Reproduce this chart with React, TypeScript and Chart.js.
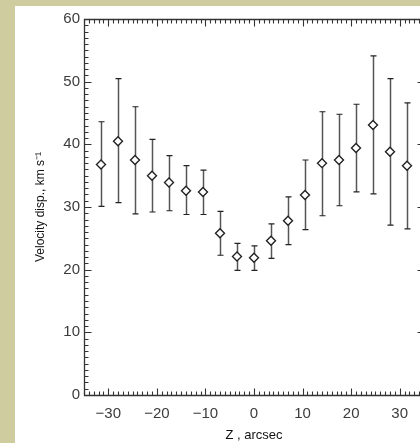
import React, { useEffect, useRef } from "react";
import { Chart, registerables } from "chart.js";

Chart.register(...registerables);

// Data
const zArcsec = [-31.5, -28, -24.5, -21, -17.5, -14, -10.5, -7, -3.5, 0, 3.5, 7, 10.5, 14, 17.5, 21, 24.5, 28, 31.5];
const sigma = [36.8, 40.5, 37.5, 35.0, 33.9, 32.6, 32.4, 25.8, 22.1, 21.9, 24.6, 27.8, 31.9, 37.0, 37.5, 39.4, 43.1, 38.8, 36.6];
const sigmaHigh = [43.6, 50.5, 46.0, 40.8, 38.2, 36.6, 35.9, 29.3, 24.2, 23.8, 27.3, 31.6, 37.5, 45.2, 44.8, 46.4, 54.1, 50.5, 46.6];
const sigmaLow = [30.1, 30.7, 28.9, 29.2, 29.4, 28.8, 28.8, 22.3, 19.9, 19.9, 21.8, 24.0, 26.4, 28.6, 30.2, 32.4, 32.1, 27.1, 26.5];

const xTicks = [-30, -20, -10, 0, 10, 20, 30];
const yTicks = [0, 10, 20, 30, 40, 50, 60];
const X_MIN = -35;
const X_MAX = 35;
const Y_MIN = 0;
const Y_MAX = 60;
const MINOR_STEP = 1;

const FONT = "'Liberation Sans', Arial, Helvetica, sans-serif";

const framePlugin = {
  id: "frameAndErrors",
  beforeDatasetsDraw(chart: any) {
    const { ctx } = chart;
    const xs = chart.scales.x;
    const ys = chart.scales.y;
    ctx.save();
    for (let i = 0; i < zArcsec.length; i++) {
      const px = Math.round(xs.getPixelForValue(zArcsec[i])) + 0.5;
      const top = ys.getPixelForValue(sigmaHigh[i]);
      const bot = ys.getPixelForValue(sigmaLow[i]);
      ctx.strokeStyle = "#555";
      ctx.lineWidth = 1.5;
      ctx.beginPath();
      ctx.moveTo(px, top);
      ctx.lineTo(px, bot);
      ctx.stroke();
      ctx.strokeStyle = "#222";
      ctx.lineWidth = 1.2;
      ctx.beginPath();
      ctx.moveTo(px - 3, top);
      ctx.lineTo(px + 3, top);
      ctx.moveTo(px - 3, bot);
      ctx.lineTo(px + 3, bot);
      ctx.stroke();
    }
    ctx.restore();
  },
  afterDraw(chart: any) {
    const { ctx, chartArea } = chart;
    const xs = chart.scales.x;
    const ys = chart.scales.y;
    const l = Math.round(chartArea.left) + 0.5;
    const r = Math.round(chartArea.right) + 0.5;
    const t = Math.round(chartArea.top) + 0.5;
    const b = Math.round(chartArea.bottom) + 0.5;
    ctx.save();
    ctx.strokeStyle = "#333";
    ctx.lineWidth = 1.3;
    ctx.beginPath();
    ctx.rect(l, t, r - l, b - t);
    ctx.stroke();
    ctx.lineWidth = 1.1;
    ctx.beginPath();
    for (let v = X_MIN; v <= X_MAX; v += MINOR_STEP) {
      const len = v % 10 === 0 ? 7 : 4;
      const px = Math.round(xs.getPixelForValue(v)) + 0.5;
      ctx.moveTo(px, b);
      ctx.lineTo(px, b - len);
      ctx.moveTo(px, t);
      ctx.lineTo(px, t + len);
    }
    for (let v = Y_MIN; v <= Y_MAX; v += MINOR_STEP) {
      const len = v % 10 === 0 ? 7 : 4;
      const py = Math.round(ys.getPixelForValue(v)) + 0.5;
      ctx.moveTo(l, py);
      ctx.lineTo(l + len, py);
      ctx.moveTo(r, py);
      ctx.lineTo(r - len, py);
    }
    ctx.stroke();
    ctx.restore();
  },
};

export default function App() {
  const canvasRef = useRef<HTMLCanvasElement | null>(null);

  useEffect(() => {
    const canvas = canvasRef.current;
    if (!canvas) return;
    const chart = new Chart(canvas, {
      type: "scatter",
      data: {
        datasets: [
          {
            data: zArcsec.map((z, i) => ({ x: z, y: sigma[i] })),
            pointStyle: "rectRot",
            pointRadius: 4.5,
            pointBackgroundColor: "#ffffff",
            pointBorderColor: "#222",
            pointBorderWidth: 1.4,
            showLine: false,
          },
        ],
      },
      options: {
        responsive: false,
        animation: false,
        devicePixelRatio: 1,
        layout: { padding: { top: 12, right: 11, left: 0, bottom: 0 } },
        plugins: {
          legend: { display: false },
          tooltip: { enabled: false },
        },
        scales: {
          x: {
            type: "linear",
            min: X_MIN,
            max: X_MAX,
            afterBuildTicks: (scale: any) => {
              scale.ticks = xTicks.map((v) => ({ value: v }));
            },
            afterFit: (scale: any) => {
              scale.height = 48;
            },
            grid: { display: false, drawTicks: false },
            border: { display: false },
            ticks: {
              padding: 10,
              color: "#3c3c3c",
              font: { family: FONT, size: 15 },
              maxRotation: 0,
              autoSkip: false,
              callback: (v: any) => (Number(v) < 0 ? "\u2212" + Math.abs(Number(v)) : String(v)),
            },
            title: {
              display: true,
              text: "Z , arcsec",
              color: "#111",
              font: { family: FONT, size: 13 },
              padding: { top: 0, bottom: 0 },
            },
          },
          y: {
            type: "linear",
            min: Y_MIN,
            max: Y_MAX,
            afterBuildTicks: (scale: any) => {
              scale.ticks = yTicks.map((v) => ({ value: v }));
            },
            afterFit: (scale: any) => {
              scale.width = 69;
            },
            grid: { display: false, drawTicks: false },
            border: { display: false },
            ticks: {
              padding: 4,
              color: "#3c3c3c",
              font: { family: FONT, size: 15 },
              autoSkip: false,
            },
            title: {
              display: true,
              text: "Velocity disp., km s\u207B\u00B9",
              color: "#111",
              font: { family: FONT, size: 12 },
              padding: { top: 18, bottom: 0 },
            },
          },
        },
      },
      plugins: [framePlugin],
    });
    return () => chart.destroy();
  }, []);

  return (
    <div
      style={{
        position: "fixed",
        left: 0,
        top: 0,
        width: 420,
        height: 443,
        overflow: "hidden",
        background: "#cfcd9f",
      }}
    >
      <div
        style={{
          position: "absolute",
          left: 15,
          top: 6,
          width: 420,
          height: 437,
          background: "#ffffff",
        }}
      >
        <canvas ref={canvasRef} width={420} height={437} style={{ display: "block", width: 420, height: 437 }} />
      </div>
    </div>
  );
}
